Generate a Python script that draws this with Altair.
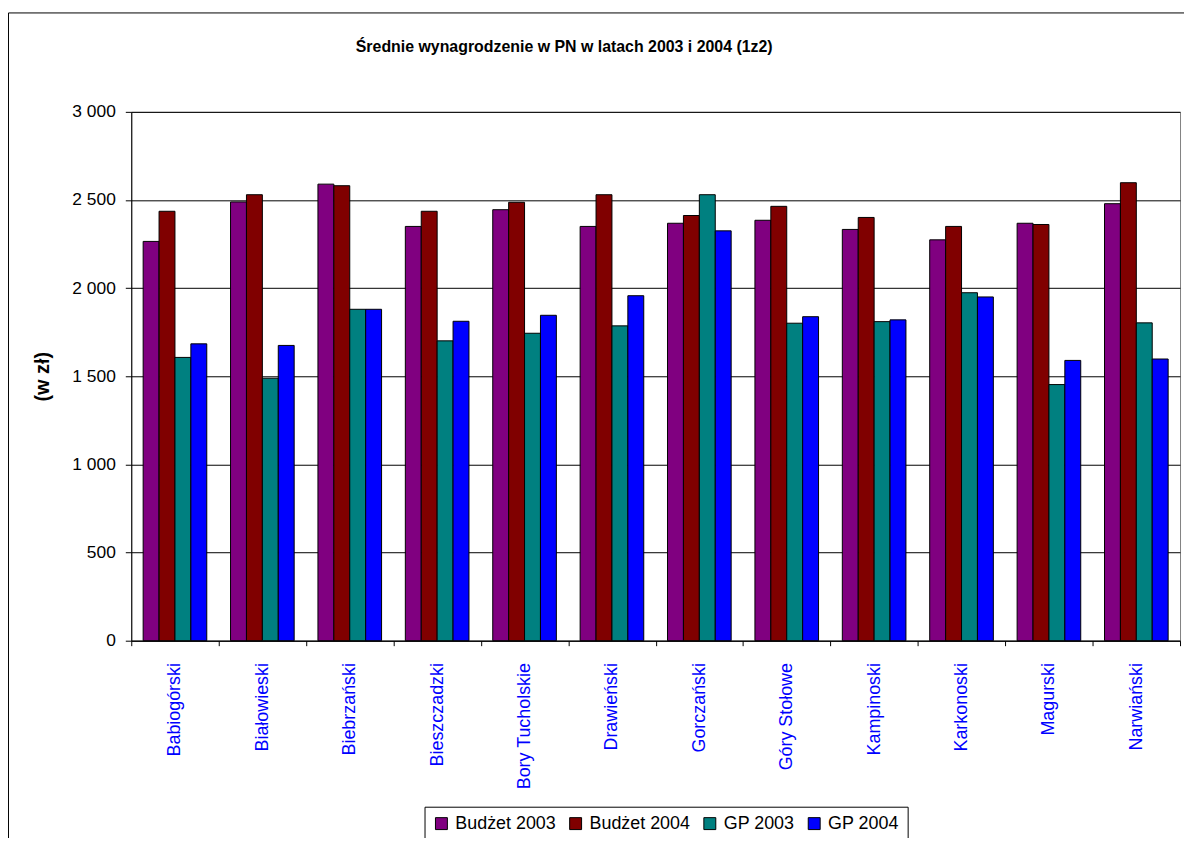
import altair as alt
import pandas as pd

categories = ["Babiogórski", "Białowieski", "Biebrzański", "Bieszczadzki",
              "Bory Tucholskie", "Drawieński", "Gorczański", "Góry Stołowe",
              "Kampinoski", "Karkonoski", "Magurski", "Narwiański"]
series = ["Budżet 2003", "Budżet 2004", "GP 2003", "GP 2004"]
colors = ["#800080", "#800000", "#008080", "#0000FF"]

budzet_2003 = [2265, 2489, 2590, 2350, 2445, 2350, 2368, 2385, 2333, 2274, 2368, 2479]
budzet_2004 = [2436, 2530, 2581, 2436, 2487, 2530, 2412, 2464, 2401, 2350, 2361, 2598]
gp_2003 = [1607, 1489, 1880, 1701, 1744, 1786, 2530, 1801, 1810, 1974, 1453, 1803]
gp_2004 = [1684, 1675, 1880, 1812, 1846, 1957, 2325, 1838, 1820, 1950, 1590, 1598]
y_ticks = [0, 500, 1000, 1500, 2000, 2500, 3000]

rows = []
for i, c in enumerate(categories):
    for s, vals in zip(series, [budzet_2003, budzet_2004, gp_2003, gp_2004]):
        rows.append({"park": c, "series": s, "value": vals[i]})
df = pd.DataFrame(rows)

FONT = "Liberation Sans"
W, H = 1055, 532

bars = alt.Chart(df).mark_bar(stroke="black", strokeWidth=1).encode(
    x=alt.X("park:N", sort=categories,
            scale=alt.Scale(paddingInner=0, paddingOuter=0),
            axis=alt.Axis(title=None, labelAngle=270, labelColor="#0000FF",
                          labelFontSize=18, labelFont=FONT, labelPadding=17,
                          tickBand="extent", tickSize=5, tickColor="black",
                          domainColor="black", grid=False)),
    xOffset=alt.XOffset("series:N", sort=series,
                        scale=alt.Scale(paddingInner=0, paddingOuter=0.747)),
    y=alt.Y("value:Q", scale=alt.Scale(domain=[0, 3000], nice=False),
            axis=alt.Axis(values=y_ticks, title="(w zł)", titleFont=FONT,
                          titleFontSize=20, titleFontWeight="bold", titleColor="black",
                          titlePadding=19,
                          labelExpr="replace(format(datum.value, ',d'), ',', ' ')",
                          labelFont=FONT, labelFontSize=17.5, labelColor="black",
                          labelPadding=10, tickSize=6, tickColor="black",
                          domainColor="black", grid=True, gridColor="black",
                          gridWidth=1)),
    color=alt.Color("series:N", sort=series,
                    scale=alt.Scale(domain=series, range=colors),
                    legend=alt.Legend(title=None, orient="none", legendX=295, legendY=699,
                                      direction="horizontal", columns=4,
                                      labelFont=FONT, labelFontSize=18, labelColor="black",
                                      symbolType="square", symbolSize=144,
                                      symbolStrokeColor="black", symbolStrokeWidth=1,
                                      strokeColor="black", fillColor="white", padding=8,
                                      columnPadding=10, labelOffset=5)),
)

frame = alt.Chart(alt.Data(values=[{}])).mark_rect(
    filled=False, stroke="black", strokeWidth=1
).encode(
    x=alt.value(-123.5), x2=alt.value(W + 30),
    y=alt.value(-99.5), y2=alt.value(H + 400),
)

chart = alt.layer(frame, bars).properties(
    width=W, height=H,
    padding={"left": 124, "top": 102, "right": 4, "bottom": 196},
    autosize=alt.AutoSizeParams(type="none"),
    title=alt.TitleParams("Średnie wynagrodzenie w PN w latach 2003 i 2004 (1z2)",
                          font=FONT, fontSize=16, fontWeight="bold", color="black",
                          anchor="middle", dx=-92, offset=-59, baseline="bottom"),
).configure_view(stroke="#808080", strokeWidth=1)

chart.save("out.html", embed_options={"renderer": "svg", "actions": False})
